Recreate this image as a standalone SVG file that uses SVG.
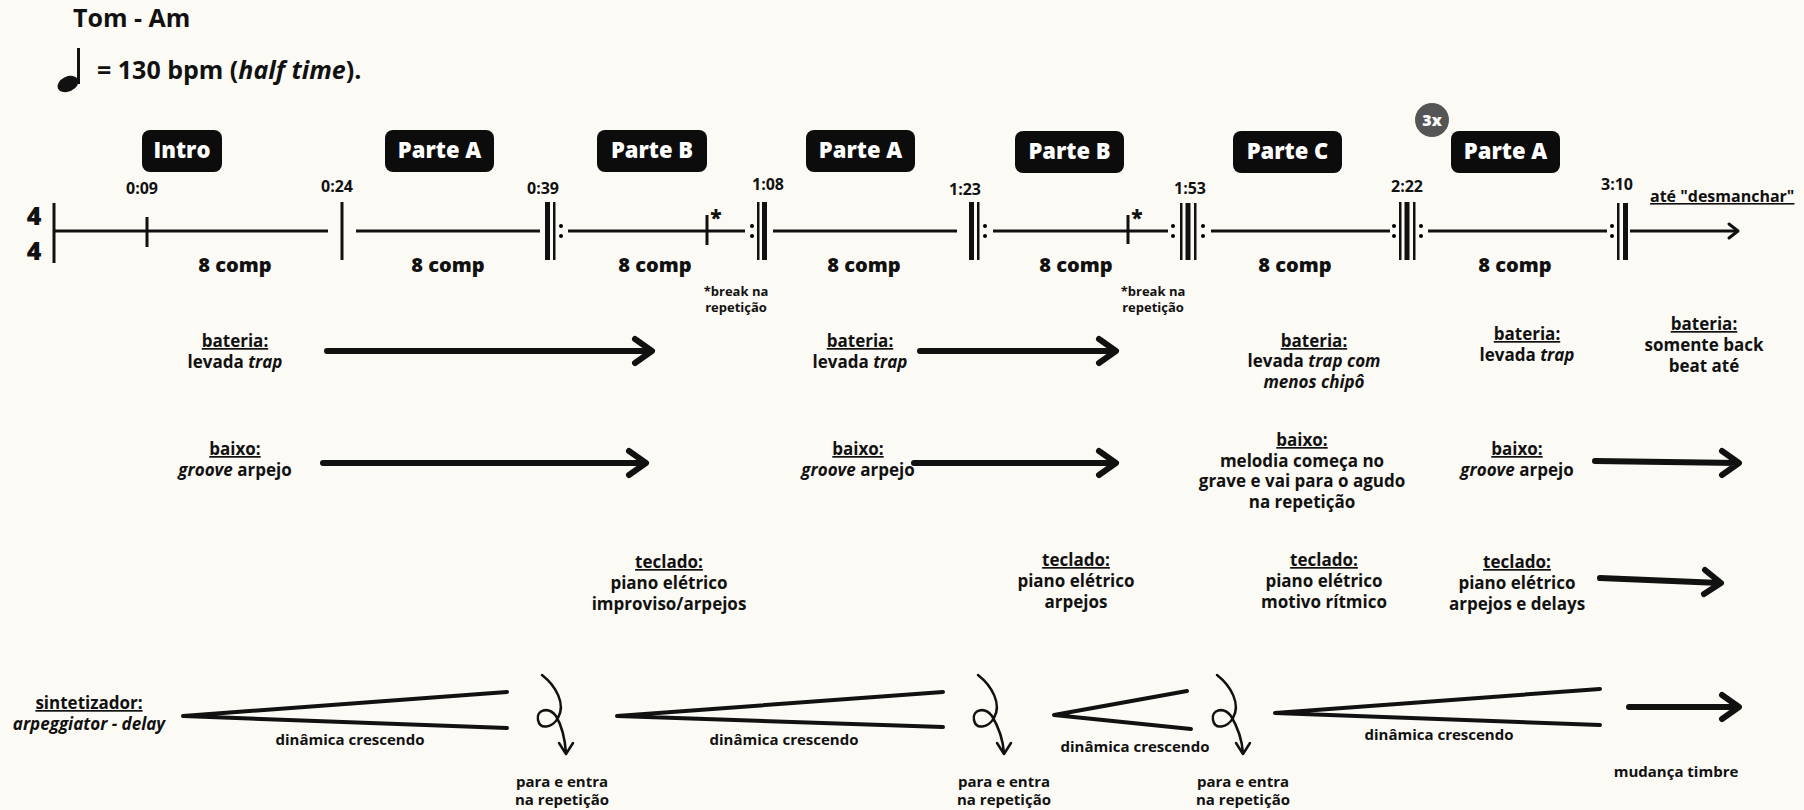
<svg xmlns="http://www.w3.org/2000/svg" width="1804" height="810" viewBox="0 0 1804 810">
<style>
text{font-family:"Open Sans","Liberation Sans",sans-serif;font-weight:700;fill:#111}
.c{text-anchor:middle}
.hd{font-size:25px}
.box{fill:#0c0c0c}
.bl{font-size:22px;font-weight:800;fill:#fff;text-anchor:middle}
.tm{font-size:16px;text-anchor:middle}
.cp{font-size:20px;font-weight:800;text-anchor:middle}
.br{font-size:13px;text-anchor:middle}
.ins{font-size:17px;text-anchor:middle}
.u{text-decoration:underline}
.i{font-style:italic}
.sm{font-size:15px;text-anchor:middle}
.ts{font-size:25px;font-weight:800;text-anchor:middle}
.ln{stroke:#111;stroke-width:3;fill:none}
.thin{fill:#111}
.big{stroke:#111;stroke-width:6;fill:none;stroke-linecap:round;stroke-linejoin:round}
.hp{stroke:#111;stroke-width:4;fill:none;stroke-linecap:round;stroke-linejoin:round}
.lp{stroke:#111;stroke-width:2.5;fill:none;stroke-linecap:round;stroke-linejoin:round}
</style>
<rect width="1804" height="810" fill="#fcfaf5"/>

<g id="header">
<text class="hd" x="73" y="27">Tom - Am</text>
<ellipse cx="68" cy="84" rx="11" ry="7.5" transform="rotate(-25 68 84)" fill="#111"/>
<rect x="77" y="48" width="3" height="36" fill="#111"/>
<text class="hd" x="97" y="79">= 130 bpm (<tspan class="i">half time</tspan>).</text>
</g>

<g id="sections">
<g id="sec-intro"><rect class="box" x="142" y="130" width="80" height="42" rx="8"/><text class="bl" x="182" y="158">Intro</text></g>
<g id="sec-a1"><rect class="box" x="385" y="130" width="109" height="42" rx="8"/><text class="bl" x="439.5" y="158">Parte A</text></g>
<g id="sec-b1"><rect class="box" x="597" y="130" width="110" height="42" rx="8"/><text class="bl" x="652" y="158">Parte B</text></g>
<g id="sec-a2"><rect class="box" x="806" y="130" width="109" height="42" rx="8"/><text class="bl" x="860.5" y="158">Parte A</text></g>
<g id="sec-b2"><rect class="box" x="1015" y="131" width="109" height="42" rx="8"/><text class="bl" x="1069.5" y="159">Parte B</text></g>
<g id="sec-c"><rect class="box" x="1233" y="131" width="109" height="42" rx="8"/><text class="bl" x="1287.5" y="159">Parte C</text></g>
<g id="sec-a3"><rect class="box" x="1451" y="131" width="109" height="42" rx="8"/><text class="bl" x="1505.5" y="159">Parte A</text></g>
<g id="badge-3x"><circle cx="1432" cy="120" r="17" fill="#555"/><text x="1432" y="126" style="font-size:16px;font-weight:800;fill:#fff;text-anchor:middle">3x</text></g>
</g>

<g id="timeline">
<text class="ts" x="34" y="225">4</text>
<text class="ts" x="34" y="260">4</text>
<line class="ln" x1="54" y1="203" x2="54" y2="263"/>
<line class="ln" x1="54" y1="231" x2="328" y2="231"/>
<line class="ln" x1="147" y1="217" x2="147" y2="247"/>
<line class="ln" x1="342" y1="202" x2="342" y2="260"/>
<line class="ln" x1="356" y1="231" x2="540" y2="231"/>
<rect class="thin" x="545" y="202" width="5" height="58"/>
<rect class="thin" x="553" y="202" width="2.5" height="58"/>
<circle cx="561" cy="226" r="2"/><circle cx="561" cy="236" r="2"/>
<line class="ln" x1="568" y1="231" x2="745" y2="231"/>
<line class="ln" x1="707" y1="215" x2="707" y2="245"/>
<text x="716" y="225" style="font-size:21px;font-weight:800;text-anchor:middle">*</text>
<circle cx="752" cy="226" r="2"/><circle cx="752" cy="236" r="2"/>
<rect class="thin" x="757" y="202" width="2.5" height="58"/>
<rect class="thin" x="762" y="202" width="5" height="58"/>
<line class="ln" x1="773" y1="231" x2="957" y2="231"/>
<rect class="thin" x="969" y="202" width="5" height="58"/>
<rect class="thin" x="977" y="202" width="2.5" height="58"/>
<circle cx="985" cy="226" r="2"/><circle cx="985" cy="236" r="2"/>
<line class="ln" x1="993" y1="231" x2="1168" y2="231"/>
<line class="ln" x1="1128" y1="215" x2="1128" y2="244"/>
<text x="1137" y="225" style="font-size:21px;font-weight:800;text-anchor:middle">*</text>
<circle cx="1173" cy="226" r="2"/><circle cx="1173" cy="236" r="2"/>
<rect class="thin" x="1180" y="203" width="2.5" height="57"/>
<rect class="thin" x="1185.5" y="203" width="5" height="57"/>
<rect class="thin" x="1194" y="203" width="2.5" height="57"/>
<circle cx="1203" cy="226" r="2"/><circle cx="1203" cy="236" r="2"/>
<line class="ln" x1="1211" y1="231" x2="1390" y2="231"/>
<circle cx="1394" cy="226" r="2"/><circle cx="1394" cy="236" r="2"/>
<rect class="thin" x="1399" y="202" width="2.5" height="58"/>
<rect class="thin" x="1404.5" y="202" width="5" height="58"/>
<rect class="thin" x="1413" y="202" width="2.5" height="58"/>
<circle cx="1421" cy="226" r="2"/><circle cx="1421" cy="236" r="2"/>
<line class="ln" x1="1428" y1="231" x2="1607" y2="231"/>
<circle cx="1612" cy="226" r="2"/><circle cx="1612" cy="236" r="2"/>
<rect class="thin" x="1617" y="203" width="2.5" height="57"/>
<rect class="thin" x="1623" y="203" width="5" height="57"/>
<line class="ln" x1="1630" y1="231" x2="1737" y2="231"/>
<path class="ln" d="M1729 224 L1738 231 L1729 238" stroke-linecap="round" stroke-linejoin="round"/>
<text x="1650" y="202" class="u" style="font-size:16px">até "desmanchar"</text>

<text class="tm" x="142" y="194">0:09</text>
<text class="tm" x="337" y="192">0:24</text>
<text class="tm" x="543" y="194">0:39</text>
<text class="tm" x="768" y="190">1:08</text>
<text class="tm" x="965" y="195">1:23</text>
<text class="tm" x="1190" y="194">1:53</text>
<text class="tm" x="1407" y="192">2:22</text>
<text class="tm" x="1617" y="190">3:10</text>

<text class="cp" x="235" y="272">8 comp</text>
<text class="cp" x="448" y="272">8 comp</text>
<text class="cp" x="655" y="272">8 comp</text>
<text class="cp" x="864" y="272">8 comp</text>
<text class="cp" x="1076" y="272">8 comp</text>
<text class="cp" x="1295" y="272">8 comp</text>
<text class="cp" x="1515" y="272">8 comp</text>

<text class="br" x="736" y="296">*break na</text>
<text class="br" x="736" y="312">repetição</text>
<text class="br" x="1153" y="296">*break na</text>
<text class="br" x="1153" y="312">repetição</text>
</g>

<g id="bateria">
<text class="ins" x="235" y="347"><tspan class="u">bateria:</tspan></text>
<text class="ins" x="235" y="368">levada <tspan class="i">trap</tspan></text>
<text class="ins" x="860" y="347"><tspan class="u">bateria:</tspan></text>
<text class="ins" x="860" y="368">levada <tspan class="i">trap</tspan></text>
<text class="ins" x="1314" y="347"><tspan class="u">bateria:</tspan></text>
<text class="ins" x="1314" y="367">levada <tspan class="i">trap com</tspan></text>
<text class="ins i" x="1314" y="388">menos chipô</text>
<text class="ins" x="1527" y="340"><tspan class="u">bateria:</tspan></text>
<text class="ins" x="1527" y="361">levada <tspan class="i">trap</tspan></text>
<text class="ins" x="1704" y="330"><tspan class="u">bateria:</tspan></text>
<text class="ins" x="1704" y="351">somente back</text>
<text class="ins" x="1704" y="372">beat até</text>
</g>

<g id="baixo">
<text class="ins" x="235" y="455"><tspan class="u">baixo:</tspan></text>
<text class="ins" x="235" y="476"><tspan class="i">groove</tspan> arpejo</text>
<text class="ins" x="858" y="455"><tspan class="u">baixo:</tspan></text>
<text class="ins" x="858" y="476"><tspan class="i">groove</tspan> arpejo</text>
<text class="ins" x="1302" y="446"><tspan class="u">baixo:</tspan></text>
<text class="ins" x="1302" y="467">melodia começa no</text>
<text class="ins" x="1302" y="487">grave e vai para o agudo</text>
<text class="ins" x="1302" y="508">na repetição</text>
<text class="ins" x="1517" y="455"><tspan class="u">baixo:</tspan></text>
<text class="ins" x="1517" y="476"><tspan class="i">groove</tspan> arpejo</text>
</g>

<g id="teclado">
<text class="ins" x="669" y="568"><tspan class="u">teclado:</tspan></text>
<text class="ins" x="669" y="589">piano elétrico</text>
<text class="ins" x="669" y="610">improviso/arpejos</text>
<text class="ins" x="1076" y="566"><tspan class="u">teclado:</tspan></text>
<text class="ins" x="1076" y="587">piano elétrico</text>
<text class="ins" x="1076" y="608">arpejos</text>
<text class="ins" x="1324" y="566"><tspan class="u">teclado:</tspan></text>
<text class="ins" x="1324" y="587">piano elétrico</text>
<text class="ins" x="1324" y="608">motivo rítmico</text>
<text class="ins" x="1517" y="568"><tspan class="u">teclado:</tspan></text>
<text class="ins" x="1517" y="589">piano elétrico</text>
<text class="ins" x="1517" y="610">arpejos e delays</text>
</g>

<g id="sintetizador">
<text class="ins" x="89" y="709"><tspan class="u">sintetizador:</tspan></text>
<text class="ins i" x="89" y="730">arpeggiator - delay</text>
<text class="sm" x="350" y="745">dinâmica crescendo</text>
<text class="sm" x="784" y="745">dinâmica crescendo</text>
<text class="sm" x="1135" y="752">dinâmica crescendo</text>
<text class="sm" x="1439" y="740">dinâmica crescendo</text>
<text class="sm" x="562" y="787">para e entra</text>
<text class="sm" x="562" y="805">na repetição</text>
<text class="sm" x="1004" y="787">para e entra</text>
<text class="sm" x="1004" y="805">na repetição</text>
<text class="sm" x="1243" y="787">para e entra</text>
<text class="sm" x="1243" y="805">na repetição</text>
<text class="sm" x="1676" y="777">mudança timbre</text>
</g>

<g id="connectors">
<g id="arrows">
<path class="big" d="M327 351 H651 M635 339 L652 351 L635 363"/>
<path class="big" d="M323 463 H645 M629 451 L646 463 L629 475"/>
<path class="big" d="M920 351 H1115 M1099 339 L1116 351 L1099 363"/>
<path class="big" d="M914 463 H1115 M1099 451 L1116 463 L1099 475"/>
<path class="big" d="M1595 461 L1738 463 M1722 451 L1739 463 L1722 475"/>
<path class="big" d="M1600 578 L1720 583 M1705 570 L1721 583 L1704 594"/>
<path class="big" d="M1629 707 H1738 M1722 695 L1739 707 L1722 719"/>
</g>
<g id="hairpins">
<path class="hp" d="M507 692 L183 716 L507 728"/>
<path class="hp" d="M943 692 L617 716 L943 727"/>
<path class="hp" d="M1187 691 L1054 715 L1191 729"/>
<path class="hp" d="M1600 689 L1275 713 L1600 725"/>
</g>
<g id="loops">
<path class="lp" d="M542 675 C556 686 566 704 558 718 C552 728 540 730 538 720 C536 710 548 706 556 716 C562 726 565 740 566 753 M559 743 L566 754 L573 743"/>
<path class="lp" d="M978 675 C992 686 1002 704 994 718 C988 728 976 730 974 720 C972 710 984 706 992 716 C998 726 1003 740 1004 753 M997 743 L1004 754 L1011 743"/>
<path class="lp" d="M1217 675 C1231 686 1241 704 1233 718 C1227 728 1215 730 1213 720 C1211 710 1223 706 1231 716 C1237 726 1242 740 1243 753 M1236 743 L1243 754 L1250 743"/>
</g>
</g>
</svg>
